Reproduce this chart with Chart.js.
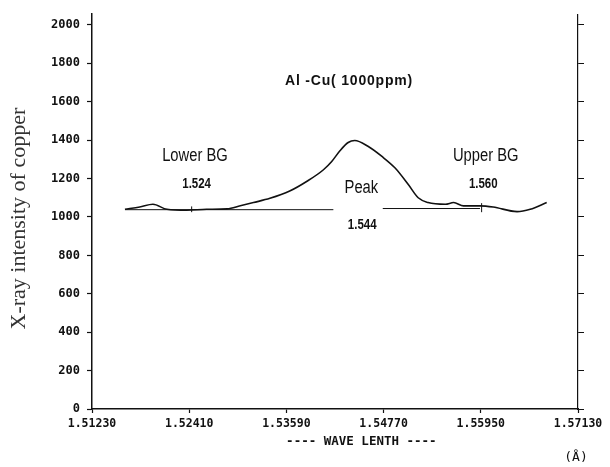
<!DOCTYPE html>
<html>
<head>
<meta charset="utf-8">
<script src="https://cdn.jsdelivr.net/npm/chart.js@4.4.1/dist/chart.umd.min.js"></script>
<style>
  html, body { margin: 0; padding: 0; background: #fff; }
</style>
</head>
<body>
<canvas id="chart" width="610" height="467"></canvas>
<script>
// scan of the Cu K-alpha line, Al-Cu (1000 ppm)
const wavelength = [1.5163, 1.5181, 1.5197, 1.5214, 1.5238, 1.5262, 1.5287, 1.5303, 1.5319, 1.5339,
  1.5363, 1.5384, 1.5404, 1.5414, 1.5424, 1.5434, 1.5442, 1.5458, 1.5475, 1.5491,
  1.5507, 1.5519, 1.5531, 1.5552, 1.5562, 1.5574, 1.5594, 1.5610, 1.5639, 1.5655, 1.5675];
const intensity = [1040, 1052, 1066, 1040, 1035, 1040, 1042, 1058, 1075, 1097,
  1135, 1186, 1246, 1289, 1345, 1388, 1398, 1368, 1315, 1255,
  1169, 1100, 1075, 1066, 1075, 1058, 1058, 1052, 1028, 1040, 1075];

// background lines under the peak
const lowerBgX = [1.5163, 1.5416];
const lowerBgY = [1038, 1038];
const upperBgX = [1.5476, 1.5594];
const upperBgY = [1044, 1044];

// little marks at the background positions
const markerX = [1.5244, 1.5596];
const markerLow = [1025, 1025];
const markerHigh = [1055, 1072];

const xTickValues = [1.5123, 1.5241, 1.5359, 1.5477, 1.5595, 1.5713];
const xTickLabels = ['1.51230', '1.52410', '1.53590', '1.54770', '1.55950', '1.57130'];
const yTickValues = [0, 200, 400, 600, 800, 1000, 1200, 1400, 1600, 1800, 2000];

const noteTexts = ['Al -Cu( 1000ppm)', 'Lower BG', '1.524', 'Peak', '1.544', 'Upper BG', '1.560'];
const noteX = [1.5435, 1.5248, 1.5250, 1.5450, 1.5451, 1.5601, 1.5598];
const noteY = [1706, 1315, 1169, 1152, 955, 1315, 1169];

const sans = '"Liberation Sans", Arial, sans-serif';
const noteFonts = ['bold 14px ' + sans, '18px ' + sans, 'bold 14px ' + sans, '18px ' + sans,
  'bold 14px ' + sans, '18px ' + sans, 'bold 14px ' + sans];
const ink = '#111';

const datasets = [
  {
    data: wavelength.map((w, i) => ({x: w, y: intensity[i]})),
    showLine: true, borderColor: ink, borderWidth: 1.6, pointRadius: 0,
    cubicInterpolationMode: 'monotone'
  },
  {
    data: lowerBgX.map((w, i) => ({x: w, y: lowerBgY[i]})),
    showLine: true, borderColor: ink, borderWidth: 1, pointRadius: 0
  },
  {
    data: upperBgX.map((w, i) => ({x: w, y: upperBgY[i]})),
    showLine: true, borderColor: ink, borderWidth: 1, pointRadius: 0
  }
];
markerX.forEach((w, i) => {
  datasets.push({
    data: [{x: w, y: markerLow[i]}, {x: w, y: markerHigh[i]}],
    showLine: true, borderColor: ink, borderWidth: 1, pointRadius: 0
  });
});

const notesPlugin = {
  id: 'notes',
  afterDatasetsDraw(chart) {
    const {ctx, scales: {x, y}, chartArea} = chart;
    ctx.save();
    ctx.fillStyle = ink;
    ctx.textAlign = 'center';
    ctx.textBaseline = 'middle';
    noteTexts.forEach((t, i) => {
      ctx.save();
      ctx.font = noteFonts[i];
      ctx.translate(x.getPixelForValue(noteX[i]), y.getPixelForValue(noteY[i]));
      if (i === 0) {
        ctx.letterSpacing = '0.8px';
      } else {
        ctx.scale(0.82, 1); // narrow look of the original lettering
      }
      ctx.fillText(t, 0, 0);
      ctx.restore();
    });
    ctx.font = 'bold 12.5px "DejaVu Sans Mono", monospace';
    ctx.fillText('---- WAVE LENTH ----', x.getPixelForValue(1.545), chartArea.bottom + 33);
    ctx.font = '13px "DejaVu Sans Mono", monospace';
    ctx.fillText('(\u00C5)', x.getPixelForValue(1.5713) - 2, chartArea.bottom + 49);

    // y axis caption
    ctx.save();
    ctx.fillStyle = '#333';
    ctx.font = '22px "Liberation Serif", "DejaVu Serif", serif';
    ctx.translate(19, (chartArea.top + chartArea.bottom) / 2 + 7);
    ctx.rotate(-Math.PI / 2);
    ctx.fillText('X-ray intensity of copper', 0, 0);
    ctx.restore();
    ctx.restore();
  }
};

const setTicks = values => scale => { scale.ticks = values.map(v => ({value: v})); };

new Chart(document.getElementById('chart'), {
  type: 'scatter',
  data: {datasets: datasets},
  options: {
    responsive: false,
    animation: false,
    devicePixelRatio: 1,
    layout: {padding: {top: 9, left: 0, right: 0, bottom: 0}},
    plugins: {legend: {display: false}, tooltip: {enabled: false}},
    scales: {
      x: {
        type: 'linear', min: 1.5123, max: 1.5713,
        afterBuildTicks: setTicks(xTickValues),
        afterFit: s => { s.height = 58; },
        ticks: {
          callback: (v, i) => xTickLabels[i],
          font: {family: '"DejaVu Sans Mono", monospace', weight: 'bold', size: 11.5},
          color: ink, padding: 4, maxRotation: 0, autoSkip: false
        },
        grid: {drawOnChartArea: false, tickLength: 4, color: ink, tickWidth: 1.2},
        border: {color: ink, width: 1.5}
      },
      y: {
        position: 'left', min: 0, max: 2056,
        afterBuildTicks: setTicks(yTickValues),
        afterFit: s => { s.width = 92; },
        ticks: {
          callback: v => String(v),
          font: {family: '"DejaVu Sans Mono", monospace', weight: 'bold', size: 12},
          color: ink, padding: 7
        },
        grid: {drawOnChartArea: false, tickLength: 5, color: ink, tickWidth: 1.2},
        border: {color: ink, width: 1.5}
      },
      y2: {
        position: 'right', min: 0, max: 2056,
        afterBuildTicks: setTicks(yTickValues),
        afterFit: s => { s.width = 32; },
        ticks: {display: false},
        grid: {drawOnChartArea: false, tickLength: 6, color: ink, tickWidth: 1},
        border: {color: ink, width: 1.2}
      }
    }
  },
  plugins: [notesPlugin]
});
</script>
</body>
</html>
